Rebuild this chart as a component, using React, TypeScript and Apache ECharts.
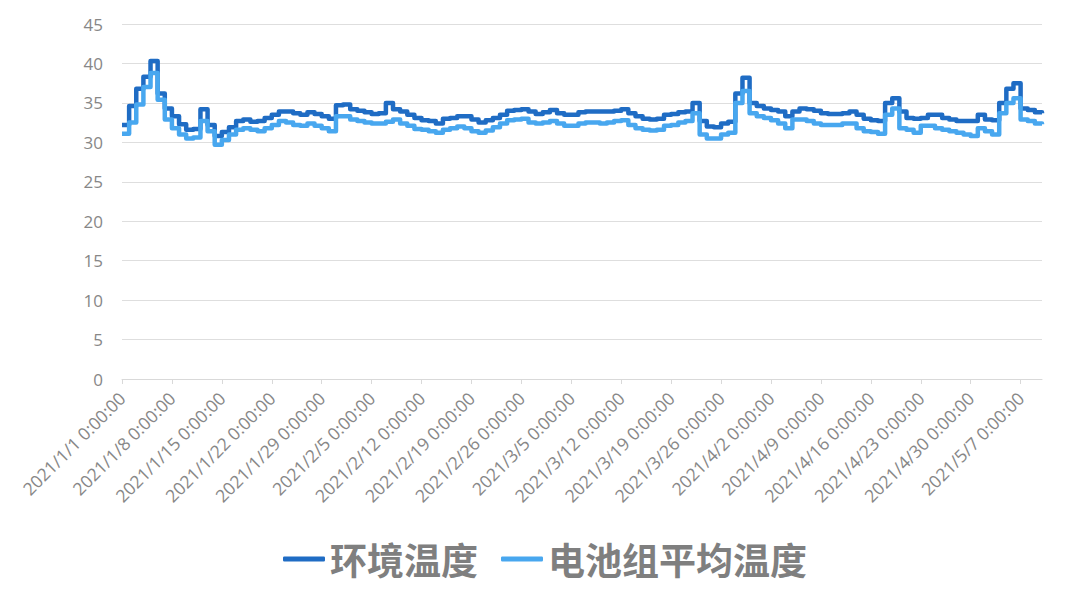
import React, { useEffect, useRef } from "react";
import * as echarts from "echarts";

const startDate = [2021, 1, 1];
const dayCount = 130;

const seriesNames = ["环境温度", "电池组平均温度"];

const envTemp = [
  32.2, 34.6, 36.8, 38.3, 40.3, 36.2, 34.3, 33.3, 32.3, 31.6,
  31.7, 34.2, 32.2, 30.8, 31.3, 31.9, 32.7, 32.9, 32.6, 32.7,
  33.1, 33.5, 33.9, 33.9, 33.7, 33.5, 33.8, 33.6, 33.3, 33.0,
  34.7, 34.8, 34.2, 34.0, 33.8, 33.6, 33.7, 35.0, 34.2, 33.9,
  33.5, 33.1, 32.8, 32.7, 32.4, 33.0, 33.1, 33.3, 33.3, 32.9,
  32.5, 32.8, 33.1, 33.5, 34.0, 34.1, 34.2, 33.9, 33.6, 33.8,
  34.1, 33.7, 33.5, 33.5, 33.8, 33.9, 33.9, 33.9, 33.9, 34.0,
  34.2, 33.7, 33.3, 33.0, 32.9, 33.0, 33.5, 33.6, 33.8, 33.9,
  35.0, 32.7, 32.0, 31.9, 32.4, 32.6, 36.2, 38.2, 35.0, 34.6,
  34.3, 34.1, 33.9, 33.3, 33.9, 34.3, 34.2, 34.0, 33.7, 33.6,
  33.6, 33.7, 33.9, 33.5, 33.0, 32.8, 32.7, 35.0, 35.6, 33.9,
  33.1, 33.0, 33.1, 33.5, 33.5, 33.1, 32.9, 32.7, 32.7, 32.7,
  33.5, 32.9, 32.8, 35.0, 36.8, 37.5, 34.3, 34.1, 33.8, 33.7,
];

const batteryTemp = [
  31.1, 32.5, 34.8, 37.0, 38.8, 35.4, 32.9, 31.8, 31.0, 30.5,
  30.6, 32.7, 31.4, 29.7, 30.3, 31.0, 31.6, 31.8, 31.6, 31.4,
  31.8, 32.2, 32.7, 32.5, 32.2, 32.1, 32.4, 32.1, 31.8, 31.4,
  33.3, 33.3, 32.9, 32.7, 32.5, 32.4, 32.4, 32.6, 32.9, 32.4,
  32.1, 31.7, 31.6, 31.4, 31.2, 31.6, 31.8, 32.0, 31.8, 31.4,
  31.2, 31.5, 31.9, 32.4, 32.8, 32.9, 33.0, 32.5, 32.4, 32.5,
  32.7, 32.4, 32.1, 32.1, 32.4, 32.5, 32.5, 32.4, 32.5, 32.7,
  32.8, 32.2, 31.8, 31.6, 31.5, 31.6, 32.1, 32.2, 32.5, 32.7,
  33.7, 31.0, 30.5, 30.5, 31.0, 31.2, 35.0, 36.5, 33.7, 33.3,
  33.1, 32.8, 32.4, 31.8, 32.9, 32.9, 32.7, 32.4, 32.2, 32.2,
  32.2, 32.4, 32.4, 31.8, 31.4, 31.3, 31.1, 33.5, 34.3, 31.8,
  31.6, 31.2, 32.1, 32.1, 31.8, 31.6, 31.4, 31.2, 31.0, 30.8,
  31.8, 31.4, 31.0, 33.7, 35.0, 35.6, 32.9, 32.7, 32.4, 32.3,
];

const seriesColors = ["#1F6CC4", "#48A7EF"];

function buildCategories(): string[] {
  const out: string[] = [];
  const base = new Date(startDate[0], startDate[1] - 1, startDate[2]);
  for (let i = 0; i < dayCount; i++) {
    const d = new Date(base.getTime());
    d.setDate(base.getDate() + i);
    out.push(`${d.getFullYear()}/${d.getMonth() + 1}/${d.getDate()} 0:00:00`);
  }
  return out;
}

const categories = buildCategories();

export default function App() {
  const ref = useRef<HTMLDivElement>(null);

  useEffect(() => {
    if (!ref.current) return;
    const chart = echarts.init(ref.current, undefined, { renderer: "svg" });
    const axisFont = "'Open Sans', 'Noto Sans', sans-serif";
    chart.setOption({
      animation: false,
      backgroundColor: "#ffffff",
      grid: { left: 122, right: 38, top: 24, bottom: 228, containLabel: false },
      legend: {
        left: 278,
        top: 534,
        itemWidth: 42,
        itemHeight: 5,
        itemGap: 23,
        icon: "roundRect",
        data: seriesNames,
        textStyle: {
          fontSize: 37,
          lineHeight: 40,
          fontWeight: "bold",
          color: "#7f7f7f",
          fontFamily: "'Noto Sans CJK SC', sans-serif",
        },
      },
      xAxis: {
        type: "category",
        boundaryGap: false,
        data: categories,
        axisLine: { show: true, lineStyle: { color: "#d9d9d9", width: 1 } },
        axisTick: { show: true, interval: 6, length: 5, lineStyle: { color: "#d9d9d9" } },
        axisLabel: {
          interval: 6,
          rotate: 45,
          margin: 16,
          fontSize: 17.5,
          color: "#878787",
          fontFamily: axisFont,
        },
        splitLine: { show: false },
      },
      yAxis: {
        type: "value",
        min: 0,
        max: 45,
        interval: 5,
        axisLine: { show: false },
        axisTick: { show: false },
        axisLabel: { fontSize: 17, color: "#878787", margin: 19, fontFamily: axisFont },
        splitLine: { lineStyle: { color: "#dedede", width: 1 } },
      },
      series: [
        {
          name: seriesNames[0],
          type: "line",
          step: "end",
          data: envTemp,
          symbol: "none",
          color: seriesColors[0],
          lineStyle: { color: seriesColors[0], width: 4.5, join: "round" },
        },
        {
          name: seriesNames[1],
          type: "line",
          step: "end",
          data: batteryTemp,
          symbol: "none",
          color: seriesColors[1],
          lineStyle: { color: seriesColors[1], width: 4.5, join: "round" },
        },
      ],
    });
    return () => chart.dispose();
  }, []);

  return (
    <div
      ref={ref}
      style={{ position: "fixed", left: 0, top: 0, width: 1080, height: 607, background: "#fff" }}
    />
  );
}
